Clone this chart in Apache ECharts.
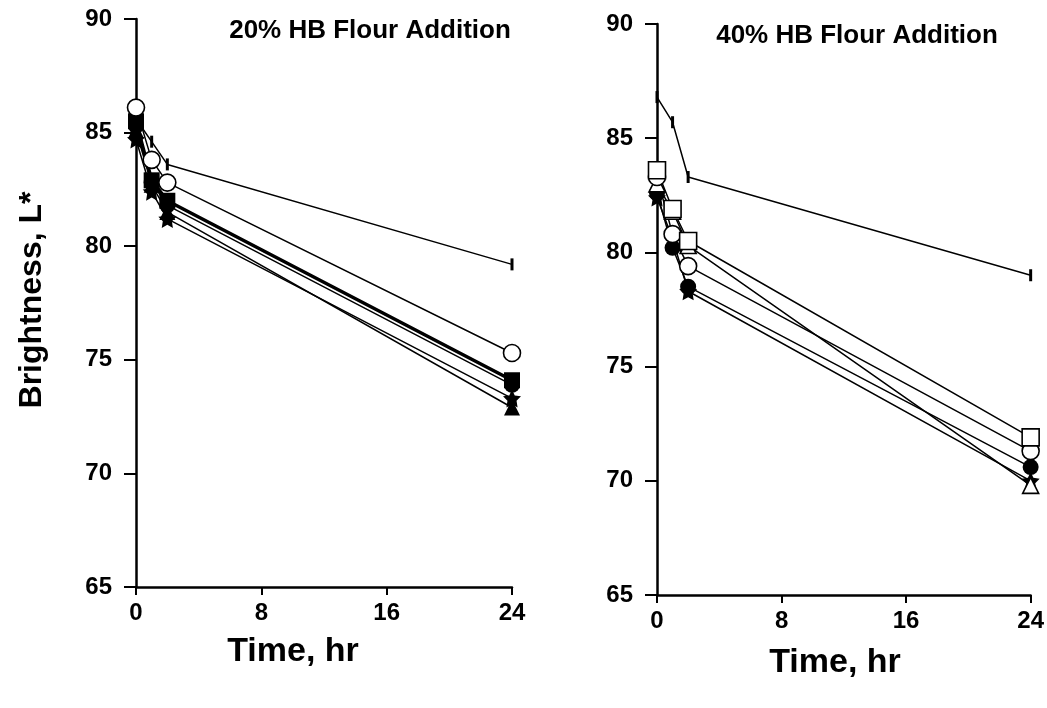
<!DOCTYPE html>
<html>
<head>
<meta charset="utf-8">
<script src="https://cdn.jsdelivr.net/npm/echarts@6/dist/echarts.min.js"></script>
<style>
  html, body { margin: 0; padding: 0; background: #fff; }
  #main { width: 1047px; height: 708px; }
</style>
</head>
<body>
<div id="main"></div>
<script>
// sampling times, hr
var hours = [0, 1, 2, 24];
var timeTicks = [0, 8, 16, 24];
var brightTicks = [65, 70, 75, 80, 85, 90];

// 20% HB flour addition
var p20Control = [85.6, 84.6, 83.6, 79.2];
var p20OpenCircle = [86.1, 83.8, 82.8, 75.3];
var p20FilledSquare = [85.5, 82.9, 82.0, 74.1];
var p20FilledCircle = [85.3, 82.8, 81.8, 73.9];
var p20FilledTriangle = [85.1, 82.7, 81.5, 72.9];
var p20Star = [84.7, 82.4, 81.2, 73.3];

// 40% HB flour addition
var p40Control = [86.8, 85.7, 83.3, 79.0];
var p40OpenSquare = [83.6, 81.9, 80.5, 71.9];
var p40OpenCircle = [83.3, 80.8, 79.4, 71.3];
var p40FilledCircle = [82.6, 80.2, 78.5, 70.6];
var p40OpenTriangle = [83.0, 81.8, 80.3, 69.8];
var p40Star = [82.4, 80.6, 78.3, 70.0];

var FONT = '"Liberation Sans", Arial, sans-serif';
var STAR = 'path://M0,-10 L2.9,-4 9.5,-3.1 4.8,1.5 5.9,8.1 0,5 -5.9,8.1 -4.8,1.5 -9.5,-3.1 -2.9,-4 Z';
var BAR = 'rect';

function pairs(vals) {
    return hours.map(function (h, i) { return [h, vals[i]]; });
}

// one line series, open = white fill
function mk(name, vals, idx, symbol, size, open, lw) {
    return {
        name: name,
        type: 'line',
        xAxisIndex: idx,
        yAxisIndex: idx,
        data: pairs(vals),
        symbol: symbol,
        symbolSize: size,
        showAllSymbol: true,
        lineStyle: { color: '#000', width: lw || 1.5 },
        itemStyle: {
            color: open ? '#fff' : '#000',
            borderColor: '#000',
            borderWidth: open ? 1.6 : 0
        },
        z: open ? 3 : 2,
        animation: false
    };
}

function xAx(idx) {
    return {
        type: 'value',
        gridIndex: idx,
        min: timeTicks[0],
        max: timeTicks[timeTicks.length - 1],
        interval: 8,
        axisLine: { lineStyle: { color: '#000', width: 2.5 } },
        axisTick: { length: 8, lineStyle: { color: '#000', width: 2 } },
        axisLabel: { fontFamily: FONT, fontWeight: 'bold', fontSize: 24, color: '#000', margin: 14 },
        splitLine: { show: false }
    };
}

function yAx(idx) {
    return {
        type: 'value',
        gridIndex: idx,
        min: brightTicks[0],
        max: brightTicks[brightTicks.length - 1],
        interval: 5,
        axisLine: { lineStyle: { color: '#000', width: 2.5 } },
        axisTick: { length: 12, lineStyle: { color: '#000', width: 2 } },
        axisLabel: { fontFamily: FONT, fontWeight: 'bold', fontSize: 24, color: '#000', margin: 24 },
        splitLine: { show: false }
    };
}

function label(text, x, y, size, rot) {
    return {
        type: 'text', x: x, y: y, rotation: rot || 0,
        style: { text: text, font: 'bold ' + size + 'px ' + FONT, fill: '#000', align: 'center', verticalAlign: 'middle' }
    };
}

var chart = echarts.init(document.getElementById('main'));
var option = {
    backgroundColor: '#fff',
    grid: [
        { left: 136, top: 19, width: 376, bottom: 121 },
        { left: 657, top: 24, width: 374, bottom: 113 }
    ],
    xAxis: [xAx(0), xAx(1)],
    yAxis: [yAx(0), yAx(1)],
    graphic: [
        label('20% HB Flour Addition', 370, 31, 26),
        label('40% HB Flour Addition', 857, 36, 26),
        label('Time, hr', 293, 652, 34),
        label('Time, hr', 835, 663, 34),
        label('Brightness, L*', 32, 300, 32, Math.PI / 2)
    ],
    series: [
        mk('control 20', p20Control, 0, BAR, [3, 12], false),
        mk('star 20', p20Star, 0, STAR, 18, false),
        mk('triangle 20', p20FilledTriangle, 0, 'triangle', 16, false),
        mk('filled circle 20', p20FilledCircle, 0, 'circle', 16, false),
        mk('square 20', p20FilledSquare, 0, 'rect', 16, false, 3.5),
        mk('open circle 20', p20OpenCircle, 0, 'circle', 17, true),

        mk('control 40', p40Control, 1, BAR, [3, 12], false),
        mk('star 40', p40Star, 1, STAR, 18, false),
        mk('filled circle 40', p40FilledCircle, 1, 'circle', 16, false),
        mk('open triangle 40', p40OpenTriangle, 1, 'triangle', 16, true),
        mk('open circle 40', p40OpenCircle, 1, 'circle', 17, true),
        mk('open square 40', p40OpenSquare, 1, 'rect', 17, true)
    ]
};
chart.setOption(option);
</script>
</body>
</html>
